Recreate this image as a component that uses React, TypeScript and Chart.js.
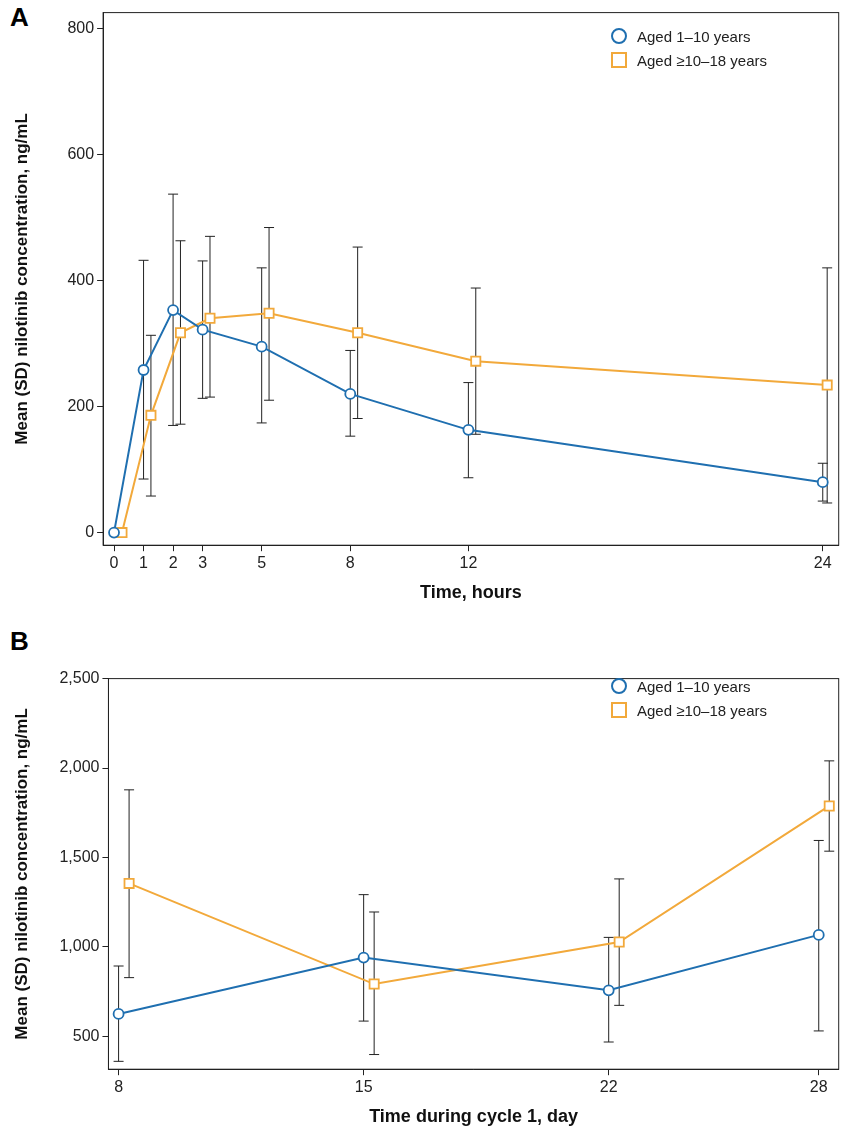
import { useEffect, useRef } from "react";
import { Chart, registerables } from "chart.js";

Chart.register(...registerables);

const BLUE = "#1f6fb0";
const ORANGE = "#f2a93b";

// Panel A
const hoursTicks = [0, 1, 2, 3, 5, 8, 12, 24];
const aBlueX = [0, 1, 2, 3, 5, 8, 12, 24];
const aBlueY = [0, 258, 353, 322, 295, 220, 163, 80];
const aBlueLo = [0, 85, 170, 213, 174, 153, 87, 50];
const aBlueHi = [0, 432, 537, 431, 420, 289, 238, 110];
const aOrangeX = [0.27, 1.25, 2.25, 3.25, 5.25, 8.25, 12.25, 24.15];
const aOrangeY = [0, 186, 317, 340, 348, 317, 272, 234];
const aOrangeLo = [0, 58, 172, 215, 210, 181, 156, 47];
const aOrangeHi = [0, 313, 463, 470, 484, 453, 388, 420];

// Panel B
const dayTicks = [8, 15, 22, 28];
const bBlueX = [8, 15, 22, 28];
const bBlueY = [625, 940, 757, 1067];
const bBlueLo = [360, 585, 468, 530];
const bBlueHi = [893, 1292, 1053, 1595];
const bOrangeX = [8.3, 15.3, 22.3, 28.3];
const bOrangeY = [1355, 792, 1027, 1788];
const bOrangeLo = [828, 398, 673, 1535];
const bOrangeHi = [1878, 1195, 1380, 2040];

const FONT = "'Liberation Sans', Arial, sans-serif";

const errorBars = {
  id: "errorBars",
  beforeDatasetsDraw(chart: any) {
    const { ctx, scales } = chart;
    ctx.save();
    ctx.strokeStyle = "#222";
    ctx.lineWidth = 1;
    chart.data.datasets.forEach((ds: any) => {
      ds.data.forEach((p: any, i: number) => {
        const lo = ds.errLo[i];
        const hi = ds.errHi[i];
        if (lo === hi) return;
        const x = scales.x.getPixelForValue(p.x);
        const y1 = scales.y.getPixelForValue(lo);
        const y2 = scales.y.getPixelForValue(hi);
        ctx.beginPath();
        ctx.moveTo(x, y1);
        ctx.lineTo(x, y2);
        ctx.moveTo(x - 5, y1);
        ctx.lineTo(x + 5, y1);
        ctx.moveTo(x - 5, y2);
        ctx.lineTo(x + 5, y2);
        ctx.stroke();
      });
    });
    ctx.restore();
  },
  afterDraw(chart: any) {
    const { ctx, chartArea: a } = chart;
    ctx.save();
    ctx.strokeStyle = "#222";
    ctx.lineWidth = 1;
    ctx.strokeRect(a.left, a.top, a.right - a.left, a.bottom - a.top);
    ctx.restore();
  },
};

function toPts(xs: number[], ys: number[]) {
  return xs.map((x, i) => ({ x, y: ys[i] }));
}

function makeConfig(opts: any): any {
  return {
    type: "line",
    data: {
      datasets: [
        {
          data: toPts(opts.bx, opts.by),
          errLo: opts.blo,
          errHi: opts.bhi,
          borderColor: BLUE,
          backgroundColor: "#fff",
          pointBackgroundColor: "#fff",
          pointBorderColor: BLUE,
          pointStyle: "circle",
          pointRadius: 5,
          pointBorderWidth: 1.8,
          borderWidth: 2,
        },
        {
          data: toPts(opts.ox, opts.oy),
          errLo: opts.olo,
          errHi: opts.ohi,
          borderColor: ORANGE,
          backgroundColor: "#fff",
          pointBackgroundColor: "#fff",
          pointBorderColor: ORANGE,
          pointStyle: "rect",
          pointRadius: 6.5,
          pointBorderWidth: 1.8,
          borderWidth: 2,
        },
      ],
    },
    options: {
      animation: false,
      responsive: true,
      maintainAspectRatio: false,
      layout: { padding: { left: 8, right: 0, top: 10, bottom: 0 } },
      plugins: { legend: { display: false }, tooltip: { enabled: false } },
      scales: {
        x: {
          type: "linear",
          min: opts.xmin,
          max: opts.xmax,
          afterBuildTicks: (s: any) => {
            s.ticks = opts.xticks.map((v: number) => ({ value: v }));
          },
          grid: { drawOnChartArea: false, tickLength: 6, color: "#222" },
          border: { color: "#222" },
          ticks: { color: "#222", font: { family: FONT, size: 16 }, autoSkip: false, maxRotation: 0, callback: (v: any) => String(v) },
          title: { display: true, text: opts.xtitle, color: "#111", font: { family: FONT, size: 18, weight: "bold" }, padding: { top: 6 } },
        },
        y: {
          min: opts.ymin,
          max: opts.ymax,
          afterBuildTicks: (s: any) => {
            s.ticks = opts.yticks.map((v: number) => ({ value: v }));
          },
          grid: { drawOnChartArea: false, tickLength: 6, color: "#222" },
          border: { color: "#222" },
          ticks: { color: "#222", font: { family: FONT, size: 16 }, callback: (v: any) => v.toLocaleString("en-US") },
          title: { display: true, text: "Mean (SD) nilotinib concentration, ng/mL", color: "#111", font: { family: FONT, size: 17, weight: "bold" }, padding: { bottom: opts.ytitlePad } },
        },
      },
    },
    plugins: [errorBars],
  };
}

function Legend({ top }: { top: number }) {
  const row = (label: string, color: string, round: boolean) => (
    <div style={{ display: "flex", alignItems: "center", height: 24 }}>
      <span style={{ width: 12, height: 12, border: `2px solid ${color}`, borderRadius: round ? "50%" : 0, marginRight: 10, background: "#fff" }} />
      <span style={{ fontSize: 15, color: "#222" }}>{label}</span>
    </div>
  );
  return (
    <div style={{ position: "absolute", left: 611, top, fontFamily: FONT }}>
      {row("Aged 1–10 years", BLUE, true)}
      {row("Aged ≥10–18 years", ORANGE, false)}
    </div>
  );
}

export default function App() {
  const aRef = useRef<HTMLCanvasElement | null>(null);
  const bRef = useRef<HTMLCanvasElement | null>(null);

  useEffect(() => {
    if (!aRef.current || !bRef.current) return;
    const a = new Chart(
      aRef.current,
      makeConfig({
        bx: aBlueX, by: aBlueY, blo: aBlueLo, bhi: aBlueHi,
        ox: aOrangeX, oy: aOrangeY, olo: aOrangeLo, ohi: aOrangeHi,
        xmin: -0.37, xmax: 24.54, xticks: hoursTicks,
        ymin: -20, ymax: 825, yticks: [0, 200, 400, 600, 800],
        xtitle: "Time, hours",
        ytitlePad: 32,
      })
    );
    const b = new Chart(
      bRef.current,
      makeConfig({
        bx: bBlueX, by: bBlueY, blo: bBlueLo, bhi: bBlueHi,
        ox: bOrangeX, oy: bOrangeY, olo: bOrangeLo, ohi: bOrangeHi,
        xmin: 7.71, xmax: 28.57, xticks: dayTicks,
        ymin: 316, ymax: 2500, yticks: [500, 1000, 1500, 2000, 2500],
        xtitle: "Time during cycle 1, day",
        ytitlePad: 24,
      })
    );
    return () => {
      a.destroy();
      b.destroy();
    };
  }, []);

  return (
    <div style={{ position: "absolute", left: 0, top: 0, width: 842, height: 1132, background: "#fff", fontFamily: FONT, overflow: "hidden" }}>
      <div style={{ position: "absolute", left: 10, top: 2, fontSize: 26, fontWeight: "bold" }}>A</div>
      <div style={{ position: "absolute", left: 10, top: 626, fontSize: 26, fontWeight: "bold" }}>B</div>
      <div style={{ position: "absolute", left: 0, top: 0, width: 847, height: 608 }}>
        <canvas ref={aRef} />
      </div>
      <div style={{ position: "absolute", left: 0, top: 666, width: 847, height: 466 }}>
        <canvas ref={bRef} />
      </div>
      <Legend top={24} />
      <Legend top={674} />
    </div>
  );
}
